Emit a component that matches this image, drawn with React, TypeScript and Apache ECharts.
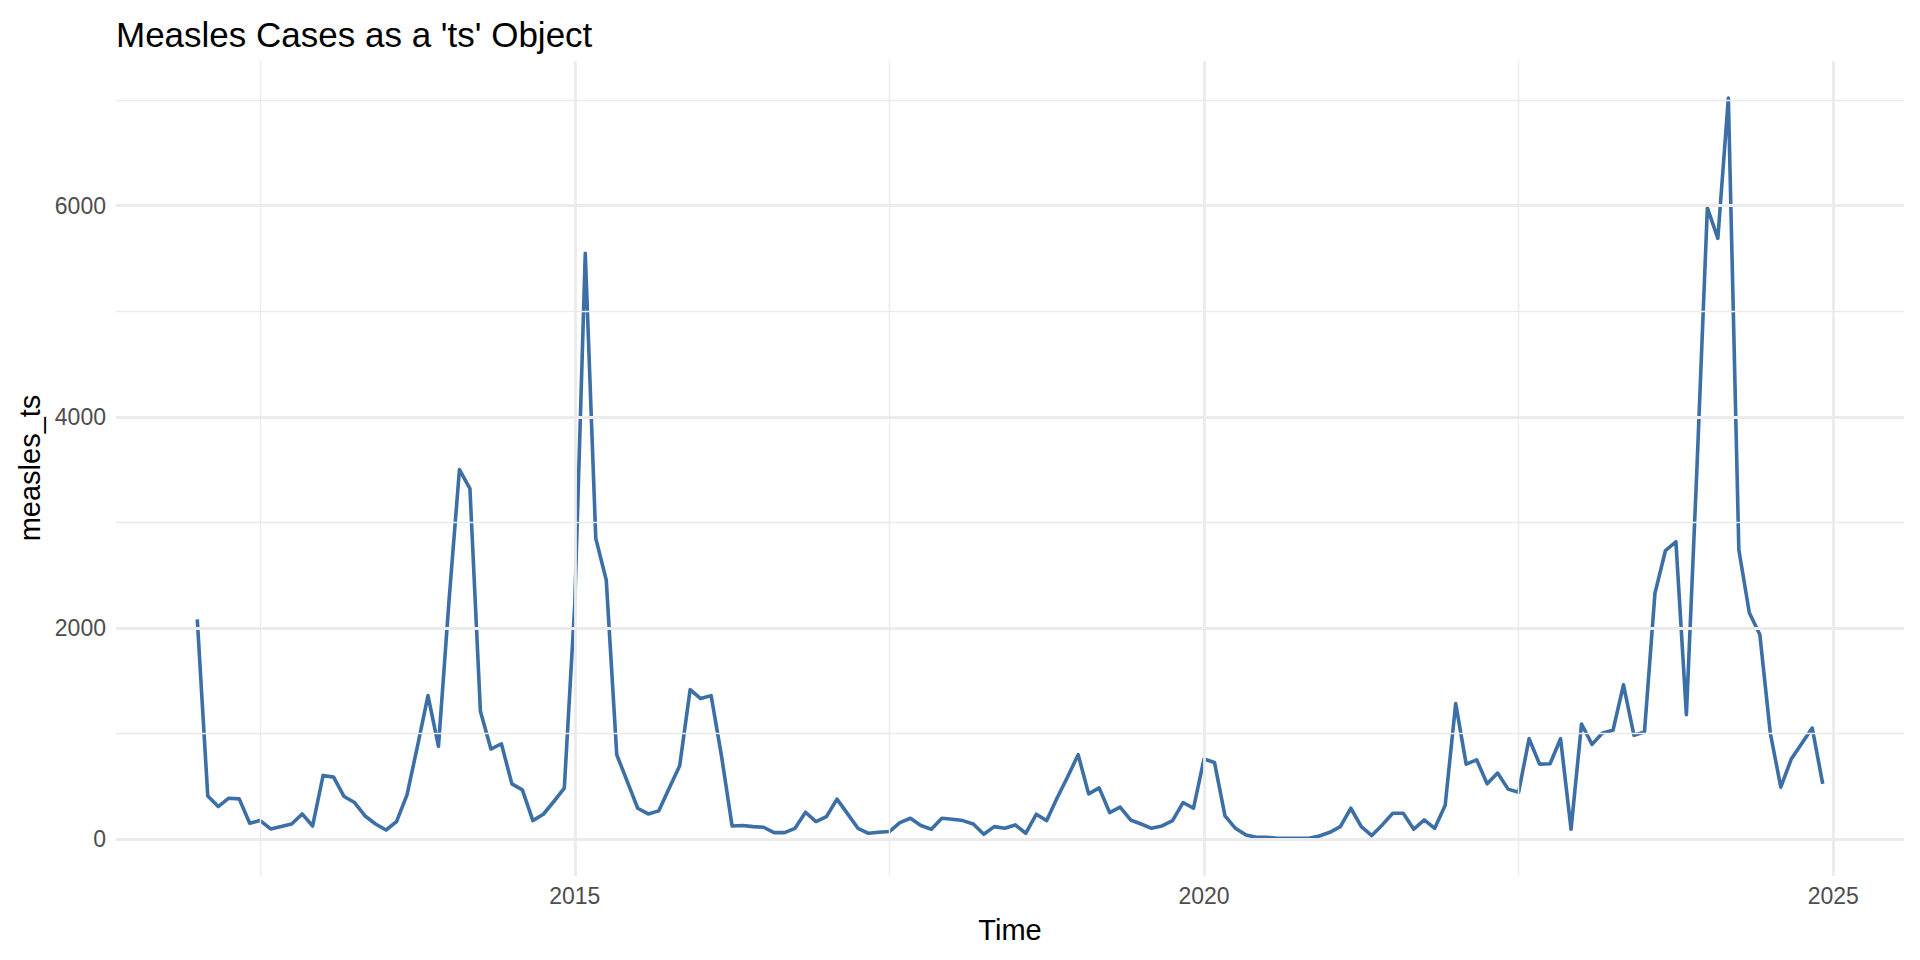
import React, { useEffect, useRef } from "react";
import * as echarts from "echarts";

// Monthly measles cases, ts object starting Jan 2012, frequency 12
const startYear = 2012;
const frequency = 12;
const cases2012 = [2080, 408, 307, 386, 380, 149, 174, 95, 117, 142, 237, 123];
const cases2013 = [602, 586, 402, 345, 218, 142, 85, 165, 418, 880, 1358, 877];
const cases2014 = [2250, 3500, 3320, 1210, 852, 902, 522, 465, 174, 234, 355, 481];
const cases2015 = [2230, 5548, 2848, 2453, 798, 545, 291, 237, 266, 481, 693, 1415];
const cases2016 = [1330, 1358, 780, 123, 127, 117, 111, 60, 60, 101, 253, 165];
const cases2017 = [212, 377, 240, 101, 54, 63, 70, 155, 196, 127, 92, 196];
const cases2018 = [187, 174, 142, 44, 117, 101, 133, 54, 234, 174, 390, 590];
const cases2019 = [798, 427, 484, 250, 301, 180, 142, 101, 123, 174, 345, 291];
const cases2020 = [757, 725, 218, 101, 38, 16, 16, 6, 6, 6, 6, 28];
const cases2021 = [63, 117, 291, 117, 32, 133, 244, 244, 92, 180, 101, 320];
const cases2022 = [1282, 709, 750, 522, 624, 472, 443, 950, 709, 712, 950, 92];
const cases2023 = [1089, 896, 1004, 1029, 1460, 982, 1013, 2327, 2731, 2816, 1178, 3500];
const cases2024 = [5980, 5690, 7020, 2740, 2144, 1938, 1004, 491, 757, 905, 1051, 522];

const measles = [
  ...cases2012, ...cases2013, ...cases2014, ...cases2015, ...cases2016,
  ...cases2017, ...cases2018, ...cases2019, ...cases2020, ...cases2021,
  ...cases2022, ...cases2023, ...cases2024,
];

const xTickLabels = [2015, 2020, 2025];
const xMinorBreaks = [2012.5, 2017.5, 2022.5];
const yTickLabels = [0, 2000, 4000, 6000];
const yMinorBreaks = [1000, 3000, 5000, 7000];

const titleText = "Measles Cases as a 'ts' Object";
const xTitle = "Time";
const yTitle = "measles_ts";

export default function App() {
  const ref = useRef<HTMLDivElement>(null);

  useEffect(() => {
    if (!ref.current) return;
    const chart = echarts.init(ref.current, null, { renderer: "svg" });

    const n = measles.length;
    const tStart = startYear;
    const tEnd = startYear + (n - 1) / frequency;
    const xPad = (tEnd - tStart) * 0.05;
    const yMaxData = Math.max(...measles);
    const yMinData = 0;
    const yPad = (yMaxData - yMinData) * 0.05;

    const data = measles.map((v, i) => [startYear + i / frequency, v]);
    const font = "Liberation Sans, Arial, Helvetica, sans-serif";
    const grid = "#EBEBEB";

    const vLine = (v: number, w: number) => ({
      xAxis: v,
      lineStyle: { color: grid, width: w, type: "solid" },
    });
    const hLine = (v: number, w: number) => ({
      yAxis: v,
      lineStyle: { color: grid, width: w, type: "solid" },
    });

    chart.setOption({
      animation: false,
      backgroundColor: "#FFFFFF",
      title: {
        text: titleText,
        left: 111,
        top: 12,
        textStyle: { fontSize: 35, fontWeight: "normal", color: "#000000", fontFamily: font },
      },
      grid: { left: 116, right: 16, top: 61, bottom: 84, containLabel: false },
      xAxis: {
        type: "value",
        min: tStart - xPad,
        max: tEnd + xPad,
        axisLine: { show: false },
        axisTick: { show: false },
        splitLine: { show: false },
        axisLabel: {
          customValues: xTickLabels,
          formatter: (v: number) => String(v),
          color: "#4D4D4D",
          fontSize: 23,
          fontFamily: font,
          margin: 8,
        },
      },
      yAxis: {
        type: "value",
        min: yMinData - yPad,
        max: yMaxData + yPad,
        axisLine: { show: false },
        axisTick: { show: false },
        splitLine: { show: false },
        axisLabel: {
          customValues: yTickLabels,
          formatter: (v: number) => String(v),
          color: "#4D4D4D",
          fontSize: 23,
          fontFamily: font,
          margin: 10,
        },
      },
      graphic: [
        {
          type: "text",
          x: 1010,
          y: 930,
          style: {
            text: xTitle,
            fontSize: 29,
            fontFamily: font,
            fill: "#000000",
            textAlign: "center",
            textVerticalAlign: "middle",
          },
        },
        {
          type: "text",
          x: 30,
          y: 468,
          rotation: Math.PI / 2,
          style: {
            text: yTitle,
            fontSize: 29,
            fontFamily: font,
            fill: "#000000",
            textAlign: "center",
            textVerticalAlign: "middle",
          },
        },
      ],
      series: [
        {
          type: "line",
          data: [],
          z: 1,
          silent: true,
          markLine: {
            silent: true,
            symbol: ["none", "none"],
            label: { show: false },
            emphasis: { disabled: true },
            data: [
              ...xMinorBreaks.map((v) => vLine(v, 1.4)),
              ...yMinorBreaks.map((v) => hLine(v, 1.4)),
              ...xTickLabels.map((v) => vLine(v, 2.8)),
              ...yTickLabels.map((v) => hLine(v, 2.8)),
            ],
          },
        },
        {
          type: "line",
          data,
          z: 3,
          showSymbol: false,
          symbol: "none",
          lineStyle: { color: "#3B6FA6", width: 3.6, join: "round" },
          emphasis: { disabled: true },
        },
      ],
    });

    return () => chart.dispose();
  }, []);

  return (
    <div
      ref={ref}
      style={{ position: "fixed", left: 0, top: 0, width: 1920, height: 960 }}
    />
  );
}
